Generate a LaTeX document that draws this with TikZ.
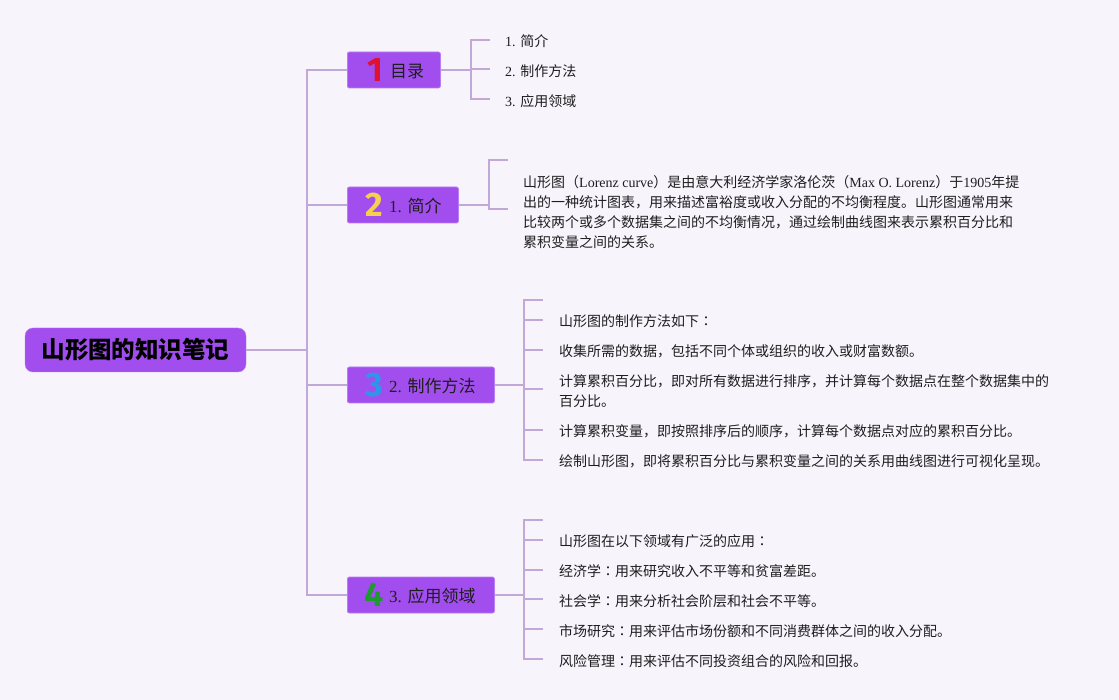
\documentclass[tikz,border=0pt]{standalone}
\usepackage{fontspec}
\setmainfont{Noto Sans CJK SC}
\newfontfamily\lat{Liberation Serif}
\newfontfamily\tcfont{Noto Sans CJK TC}
\newfontfamily\badgefont{Fira Sans}
\newcommand\fcolon{{\tcfont ：}}
\definecolor{bg}{HTML}{F8F4FC}
\definecolor{linec}{HTML}{C2A8D8}
\definecolor{boxfill}{HTML}{A24EEE}
\definecolor{boxdraw}{HTML}{B77EF2}
\definecolor{txt}{HTML}{1E1E1E}
\definecolor{cone}{HTML}{E01030}
\definecolor{ctwo}{HTML}{F6CF50}
\definecolor{cthree}{HTML}{2E96E8}
\definecolor{cfour}{HTML}{1E9A2E}
\tikzset{
  rootbox/.style={draw=boxdraw, fill=boxfill, rounded corners=8pt, minimum width=221pt, minimum height=44pt, inner sep=0pt,
    font=\fontsize{23.5}{26}\selectfont\bfseries, text=black},
  topic/.style={draw=boxdraw, line width=0.8pt, fill=boxfill, rounded corners=2pt, minimum height=36pt, anchor=west, inner sep=0pt},
  badge/.style={font=\badgefont\bfseries\fontsize{34}{34}\selectfont, inner sep=0pt},
  lbl/.style={font=\fontsize{17}{20}\selectfont, text=txt, anchor=west, inner sep=0pt},
  leaf/.style={font=\fontsize{14}{20}\selectfont, text=txt, anchor=west, inner sep=0pt, align=left},
  conn/.style={draw=linec, line width=1.8pt},
}
\begin{document}
\begin{tikzpicture}[x=1pt,y=-1pt]
\fill[bg] (0,0) rectangle (1119,700);
\useasboundingbox (0,0) rectangle (1119,700);

% root
\node[rootbox] (root) at (135.5,350) {山形图的知识笔记};

% topics
\node[topic, minimum width=93pt] (t1) at (347,70) {};
\node[badge, text=cone] (b1) at (375,70) {1};
\node[lbl] (l1) at (390,71.5) {目录};

\node[topic, minimum width=111pt] (t2) at (347,205) {};
\node[badge, text=ctwo] (b2) at (374,205) {2};
\node[lbl] (l2) at (389,206) {{\lat 1. }简介};

\node[topic, minimum width=147pt] (t3) at (347,385) {};
\node[badge, text=cthree] (b3) at (374,385) {3};
\node[lbl] (l3) at (389,386) {{\lat 2. }制作方法};

\node[topic, minimum width=147pt] (t4) at (347,595) {};
\node[badge, text=cfour] (b4) at (374,595) {4};
\node[lbl] (l4) at (389,596) {{\lat 3. }应用领域};

% spine
\draw[conn] (root.east) -- ++(61,0) coordinate (sp);
\draw[conn] (sp) |- (t1.west);
\draw[conn] (sp) |- (t2.west);
\draw[conn] (sp) |- (t3.west);
\draw[conn] (sp) |- (t4.west);

% topic 1 children
\node[leaf] (c11) at (505,41.5) {{\lat 1. }简介};
\node[leaf] (c12) at (505,71.5) {{\lat 2. }制作方法};
\node[leaf] (c13) at (505,101.5) {{\lat 3. }应用领域};
\draw[conn] (t1.east) -- ++(30,0) coordinate (k1);
\coordinate (s11) at (490,40);
\coordinate (s12) at (490,69);
\coordinate (s13) at (490,99);
\draw[conn] (k1) |- (s11);
\draw[conn] (k1) |- (s12);
\draw[conn] (k1) |- (s13);

% topic 2 child
\node[leaf] (c21) at (523,212.5) {山形图（{\lat Lorenz curve}）是由意大利经济学家洛伦茨（{\lat Max O. Lorenz}）于{\lat 1905}年提\\
出的一种统计图表，用来描述富裕度或收入分配的不均衡程度。山形图通常用来\\
比较两个或多个数据集之间的不均衡情况，通过绘制曲线图来表示累积百分比和\\
累积变量之间的关系。};
\draw[conn] (t2.east) -- ++(30,0) coordinate (k2);
\coordinate (s21) at (508,160);
\coordinate (s22) at (508,209);
\draw[conn] (k2) |- (s21);
\draw[conn] (k2) |- (s22);

% topic 3 children
\node[leaf] (m1) at (559,321.5) {山形图的制作方法如下\fcolon};
\node[leaf] (m2) at (559,351.5) {收集所需的数据，包括不同个体或组织的收入或财富数额。};
\node[leaf] (m3) at (559,391.5) {计算累积百分比，即对所有数据进行排序，并计算每个数据点在整个数据集中的\\百分比。};
\node[leaf] (m4) at (559,431.5) {计算累积变量，即按照排序后的顺序，计算每个数据点对应的累积百分比。};
\node[leaf] (m5) at (559,461.5) {绘制山形图，即将累积百分比与累积变量之间的关系用曲线图进行可视化呈现。};
\draw[conn] (t3.east) -- ++(29,0) coordinate (k3);
\coordinate (s30) at (543,300);
\coordinate (s31) at (543,320);
\coordinate (s32) at (543,350);
\coordinate (s33) at (543,389);
\coordinate (s34) at (543,430);
\coordinate (s35) at (543,460);
\foreach \s in {s30,s31,s32,s33,s34,s35} \draw[conn] (k3) |- (\s);

% topic 4 children
\node[leaf] (a1) at (559,541.5) {山形图在以下领域有广泛的应用\fcolon};
\node[leaf] (a2) at (559,571.5) {经济学\fcolon 用来研究收入不平等和贫富差距。};
\node[leaf] (a3) at (559,601.5) {社会学\fcolon 用来分析社会阶层和社会不平等。};
\node[leaf] (a4) at (559,631.5) {市场研究\fcolon 用来评估市场份额和不同消费群体之间的收入分配。};
\node[leaf] (a5) at (559,661.5) {风险管理\fcolon 用来评估不同投资组合的风险和回报。};
\draw[conn] (t4.east) -- ++(29,0) coordinate (k4);
\coordinate (s40) at (543,520);
\coordinate (s41) at (543,540);
\coordinate (s42) at (543,570);
\coordinate (s43) at (543,599);
\coordinate (s44) at (543,629);
\coordinate (s45) at (543,659);
\foreach \s in {s40,s41,s42,s43,s44,s45} \draw[conn] (k4) |- (\s);
\end{tikzpicture}
\end{document}
